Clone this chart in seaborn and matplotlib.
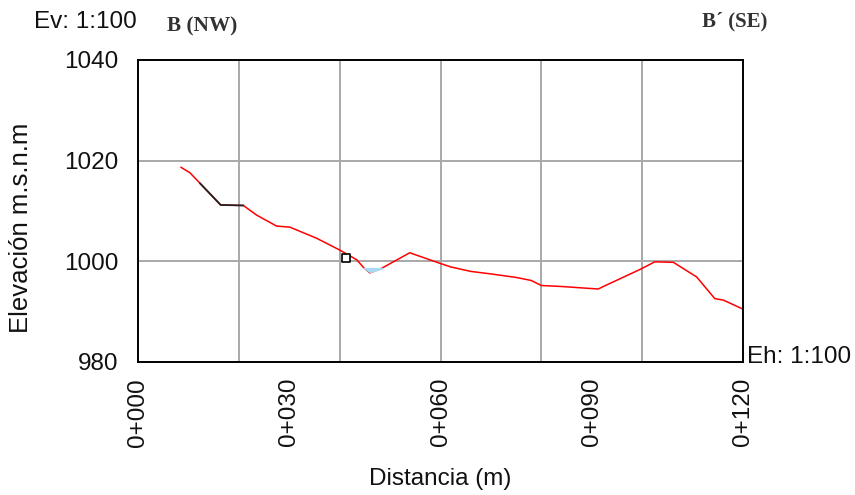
import numpy as np
import pandas as pd
import matplotlib
matplotlib.use("Agg")
import matplotlib.pyplot as plt
from matplotlib.ticker import MultipleLocator
import seaborn as sns

# Perfil B - B' (distancia en m, elevacion en m.s.n.m)
perfil_dist = [8.5, 10.3, 12.3, 16.4, 20.9, 23.5, 27.5, 30.1, 35.4, 40.1, 43.4, 44.7,
               46.0, 48.3, 53.9, 59.9, 62.0, 66.0, 70.0, 75.0, 78.0, 80.0, 84.0, 91.3,
               92.3, 99.6, 102.5, 106.2, 110.8, 114.4, 116.1, 120.0]
perfil_elev = [1018.7, 1017.6, 1015.5, 1011.2, 1011.1, 1009.2, 1007.0, 1006.8, 1004.6,
               1002.2, 1000.3, 998.8, 997.7, 998.6, 1001.7, 999.6, 998.9, 998.0, 997.5,
               996.8, 996.2, 995.2, 995.0, 994.5, 995.0, 998.4, 999.9, 999.8, 996.9,
               992.6, 992.3, 990.5]

# tramo dibujado en negro
tramo_dist = [12.3, 16.4, 20.9]
tramo_elev = [1015.5, 1011.2, 1011.1]

# lamina de agua
agua_dist = [44.4, 46.0, 48.6]
agua_fondo = [998.8, 997.7, 998.5]
agua_sup = 998.8

# punto marcado
punto_dist = [41.3]
punto_elev = [1000.6]

xticks = list(range(0, 121, 10))
xlabels = ["0+%03d" % v if v % 30 == 0 else "" for v in xticks]
yticks = [980, 1000, 1020, 1040]

sns.set_style("white")
plt.rcParams["font.family"] = ["Liberation Sans", "DejaVu Sans"]

fig = plt.figure(figsize=(8.55, 4.95), dpi=100)
ax = fig.add_axes([138 / 855, 1 - 362 / 495, 605 / 855, 302 / 495])

df = pd.DataFrame({"dist": perfil_dist, "elev": perfil_elev})
sns.lineplot(data=df, x="dist", y="elev", color="#ff0000", linewidth=1.1,
             sort=False, estimator=None, ax=ax)
sns.lineplot(x=tramo_dist, y=tramo_elev, color="#222222", linewidth=1.3,
             sort=False, estimator=None, ax=ax)
ax.fill_between(agua_dist, agua_fondo, agua_sup, color="#a8d8f2", linewidth=0, zorder=3)
sns.scatterplot(x=punto_dist, y=punto_elev, marker="s", s=30, facecolor="white",
                edgecolor="black", linewidth=1.2, ax=ax, zorder=5)

ax.set_xlim(0, 120)
ax.set_ylim(980, 1040)
ax.set_xticks(xticks)
ax.set_xticklabels(xlabels, rotation=90, fontsize=17.5, color="#111111")
ax.set_yticks(yticks)
ax.set_yticklabels([str(v) for v in yticks], fontsize=17.5, color="#111111")
ax.xaxis.remove_overlapping_locs = False
ax.xaxis.set_minor_locator(MultipleLocator(20))
ax.tick_params(axis="x", which="major", direction="inout", length=11, width=0.9,
               color="#ff7070", pad=6)
ax.tick_params(axis="x", which="minor", length=0)
ax.tick_params(axis="y", which="major", direction="out", length=5, width=0.9,
               color="#ff7070", pad=9)
ax.grid(True, axis="x", which="minor", color="#a8a8a8", linewidth=1.4)
ax.grid(True, axis="y", which="major", color="#a8a8a8", linewidth=1.4)
ax.set_axisbelow(True)
for s in ax.spines.values():
    s.set_visible(True)
    s.set_color("black")
    s.set_linewidth(1.4)
ax.set_xlabel("")
ax.set_ylabel("")

fig.text(21 / 855, 1 - 228 / 495, "Elevación m.s.n.m", rotation=90, fontsize=18.5,
         ha="center", va="center", color="#111111")
fig.text(440 / 855, 1 - 479 / 495, "Distancia (m)", fontsize=17.5,
         ha="center", va="center", color="#111111")
fig.text(34 / 855, 1 - 22 / 495, "Ev: 1:100", fontsize=17.5, ha="left", va="center",
         color="#111111")
fig.text(747 / 855, 1 - 357 / 495, "Eh: 1:100", fontsize=17.5, ha="left", va="center",
         color="#111111")
fig.text(167 / 855, 1 - 26 / 495, "B (NW)", fontsize=15.3, fontweight="bold",
         family="Liberation Serif", ha="left", va="center", color="#333333")
fig.text(702 / 855, 1 - 21 / 495, "B´ (SE)", fontsize=15, fontweight="bold",
         family="Liberation Serif", ha="left", va="center", color="#333333")

fig.savefig("out.png", dpi=100)
